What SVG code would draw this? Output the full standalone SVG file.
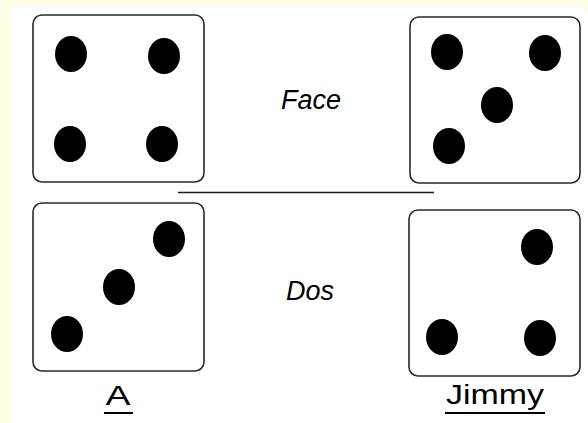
<svg xmlns="http://www.w3.org/2000/svg" width="588" height="423" viewBox="0 0 588 423">
<style>
.die{fill:#fff;stroke:#2a2a2a;stroke-width:1.6}
.pip{fill:#000}
.lbl{font-family:"Liberation Sans",Arial,sans-serif;fill:#000}
.it{font-style:italic;font-size:27px}
.name{font-size:28px}
.ul{stroke:#000;stroke-width:2}
</style>
<rect x="0" y="0" width="588" height="423" fill="#FFFDE6"/>
<path d="M11,7 H576 A12,12 0 0 1 588,19 V423 H11 Z" fill="#fff"/>
<g id="connectors">
<line x1="178" y1="192.5" x2="434" y2="192.5" stroke="#1a1a1a" stroke-width="1.6"/>
</g>
<g id="die-a-face">
<rect class="die" x="33" y="15" width="171" height="167" rx="9"/>
<ellipse class="pip" cx="71" cy="54" rx="16" ry="18"/>
<ellipse class="pip" cx="164" cy="56" rx="16" ry="18"/>
<ellipse class="pip" cx="70" cy="144" rx="16" ry="18"/>
<ellipse class="pip" cx="162" cy="144" rx="16" ry="18"/>
</g>
<g id="die-jimmy-face">
<rect class="die" x="410" y="17" width="170" height="166" rx="9"/>
<ellipse class="pip" cx="447" cy="52" rx="16" ry="18"/>
<ellipse class="pip" cx="545" cy="53" rx="16" ry="18"/>
<ellipse class="pip" cx="497" cy="105" rx="16" ry="18"/>
<ellipse class="pip" cx="449" cy="146" rx="16" ry="18"/>
</g>
<g id="die-a-dos">
<rect class="die" x="33" y="203" width="171" height="168" rx="9"/>
<ellipse class="pip" cx="169" cy="239" rx="16" ry="18"/>
<ellipse class="pip" cx="119" cy="287" rx="16" ry="18"/>
<ellipse class="pip" cx="67" cy="334" rx="16" ry="18"/>
</g>
<g id="die-jimmy-dos">
<rect class="die" x="409" y="210" width="171" height="166" rx="9"/>
<ellipse class="pip" cx="537" cy="247" rx="16" ry="18"/>
<ellipse class="pip" cx="442" cy="337" rx="16" ry="18"/>
<ellipse class="pip" cx="540" cy="338" rx="16" ry="18"/>
</g>
<g id="label-face"><text class="lbl it" x="281" y="109">Face</text></g>
<g id="label-dos"><text class="lbl it" x="286" y="300">Dos</text></g>
<g id="label-a">
<text class="lbl name" x="118" y="405" text-anchor="middle" textLength="25" lengthAdjust="spacingAndGlyphs">A</text>
<line class="ul" x1="104" y1="413" x2="133" y2="413"/>
</g>
<g id="label-jimmy">
<text class="lbl name" x="495" y="404" text-anchor="middle" textLength="98" lengthAdjust="spacingAndGlyphs">Jimmy</text>
<line class="ul" x1="445" y1="413" x2="545" y2="413"/>
</g>
</svg>
